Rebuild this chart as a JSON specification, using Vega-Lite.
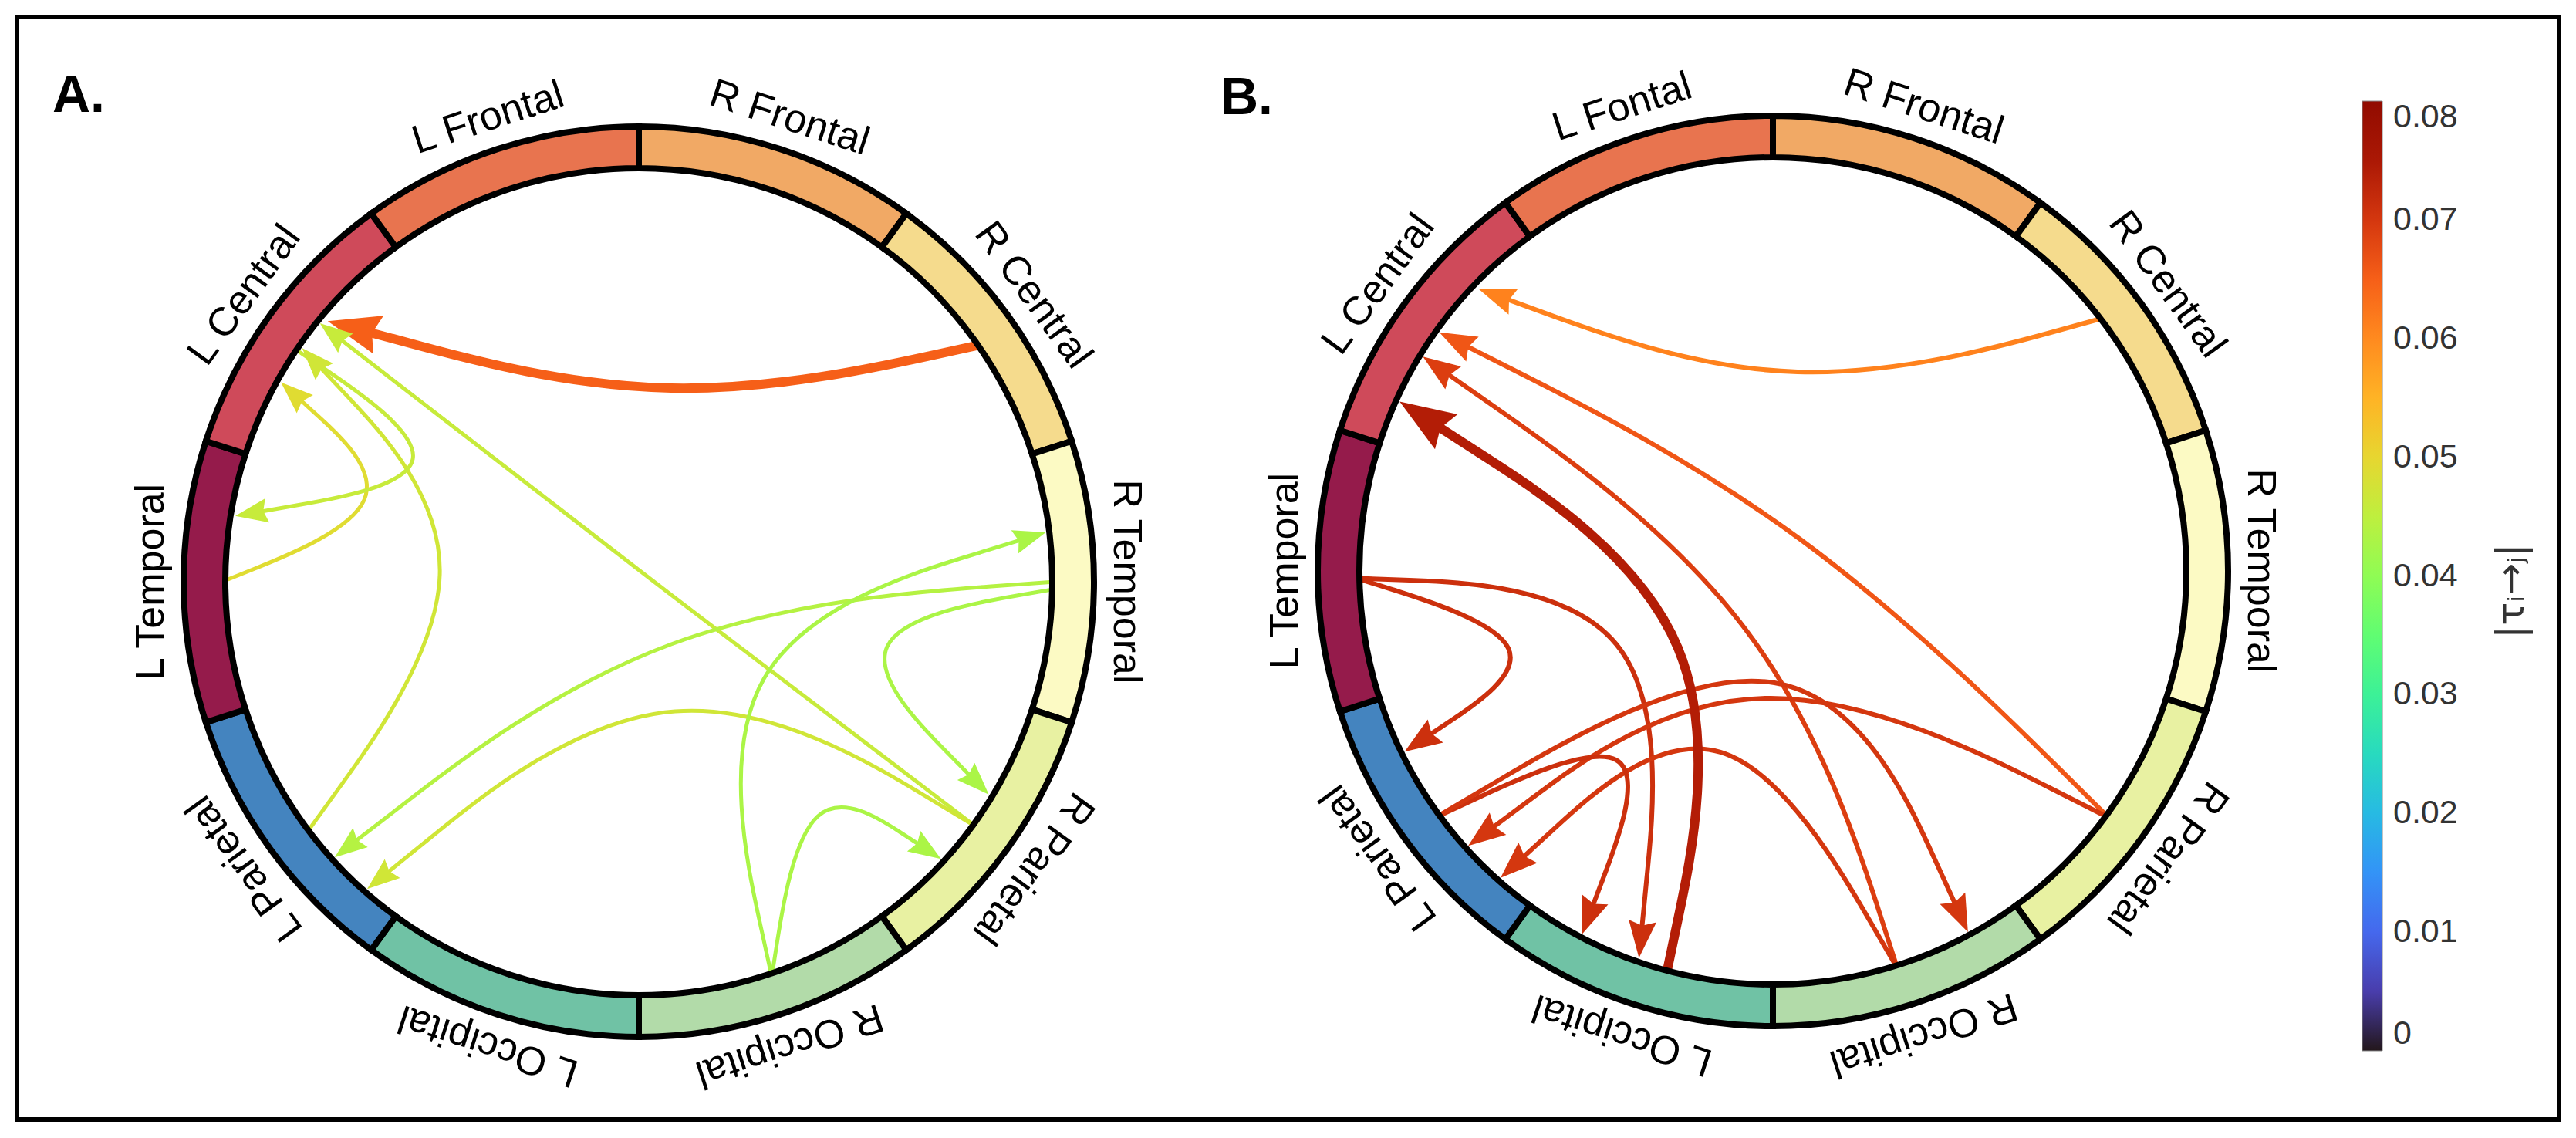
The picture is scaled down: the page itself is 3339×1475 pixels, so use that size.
{
  "$schema": "https://vega.github.io/schema/vega-lite/v6.json",
  "width": 3339,
  "height": 1475,
  "autosize": {"type": "fit", "contains": "padding"},
  "padding": {"left": 22, "top": 22, "right": 22, "bottom": 24},
  "background": "white",
  "config": {
    "view": {"stroke": "black", "strokeWidth": 6},
    "font": "Liberation Sans"
  },
  "datasets": {
    "chordsA": [
      {"c": "A1", "s": 0, "x": 1271.9, "y": 446.6, "tau": 0.065},
      {"c": "A1", "s": 1, "x": 866.9, "y": 535.1, "tau": 0.065},
      {"c": "A1", "s": 2, "x": 480.6, "y": 431.2, "tau": 0.065, "dir": 285.1},
      {"c": "A2", "s": 0, "x": 1264.9, "y": 1071.4, "tau": 0.046},
      {"c": "A2", "s": 1, "x": 833.1, "y": 743.9, "tau": 0.046},
      {"c": "A2", "s": 2, "x": 442.9, "y": 441.0, "tau": 0.046, "dir": 307.8},
      {"c": "A3", "s": 0, "x": 397.3, "y": 1079.7, "tau": 0.047},
      {"c": "A3", "s": 1, "x": 651.7, "y": 728.3, "tau": 0.047},
      {"c": "A3", "s": 2, "x": 416.1, "y": 477.2, "tau": 0.047, "dir": 316.8},
      {"c": "A4", "s": 0, "x": 288.0, "y": 754.0, "tau": 0.049},
      {"c": "A4", "s": 1, "x": 538.4, "y": 653.6, "tau": 0.049},
      {"c": "A4", "s": 2, "x": 390.6, "y": 519.5, "tau": 0.049, "dir": 312.2},
      {"c": "A5", "s": 0, "x": 380.8, "y": 451.3, "tau": 0.046},
      {"c": "A5", "s": 1, "x": 622.3, "y": 614.0, "tau": 0.046},
      {"c": "A5", "s": 2, "x": 340.2, "y": 662.7, "tau": 0.046, "dir": 260.2},
      {"c": "A6", "s": 0, "x": 1368.0, "y": 754.0, "tau": 0.044},
      {"c": "A6", "s": 1, "x": 847.5, "y": 791.7, "tau": 0.044},
      {"c": "A6", "s": 2, "x": 462.1, "y": 1089.3, "tau": 0.044, "dir": 232.3},
      {"c": "A7", "s": 0, "x": 1264.9, "y": 1071.4, "tau": 0.047},
      {"c": "A7", "s": 1, "x": 870.4, "y": 832.7, "tau": 0.047},
      {"c": "A7", "s": 2, "x": 503.7, "y": 1129.7, "tau": 0.047, "dir": 231.0},
      {"c": "A8", "s": 0, "x": 1000.3, "y": 1265.8, "tau": 0.043},
      {"c": "A8", "s": 1, "x": 904.6, "y": 828.5, "tau": 0.043},
      {"c": "A8", "s": 2, "x": 1321.4, "y": 700.4, "tau": 0.043, "dir": 72.9},
      {"c": "A9", "s": 0, "x": 1367.9, "y": 763.4, "tau": 0.043},
      {"c": "A9", "s": 1, "x": 1068.9, "y": 815.1, "tau": 0.043},
      {"c": "A9", "s": 2, "x": 1256.5, "y": 1004.4, "tau": 0.043, "dir": 135.3},
      {"c": "A10", "s": 0, "x": 1000.3, "y": 1265.8, "tau": 0.043},
      {"c": "A10", "s": 1, "x": 1042.5, "y": 997.1, "tau": 0.043},
      {"c": "A10", "s": 2, "x": 1189.8, "y": 1093.7, "tau": 0.043, "dir": 123.3}
    ],
    "chordsB": [
      {"c": "B1", "s": 0, "x": 2727.0, "y": 412.0, "tau": 0.061},
      {"c": "B1", "s": 1, "x": 2324.5, "y": 522.9, "tau": 0.061},
      {"c": "B1", "s": 2, "x": 1954.9, "y": 388.4, "tau": 0.061, "dir": 290.0},
      {"c": "B2", "s": 0, "x": 2733.2, "y": 1059.7, "tau": 0.066},
      {"c": "B2", "s": 1, "x": 2341.4, "y": 671.3, "tau": 0.066},
      {"c": "B2", "s": 2, "x": 1902.1, "y": 449.2, "tau": 0.066, "dir": 296.8},
      {"c": "B3", "s": 0, "x": 2459.5, "y": 1255.3, "tau": 0.069},
      {"c": "B3", "s": 1, "x": 2308.7, "y": 787.3, "tau": 0.069},
      {"c": "B3", "s": 2, "x": 1877.8, "y": 485.6, "tau": 0.069, "dir": 305.0},
      {"c": "B5", "s": 0, "x": 1758.1, "y": 749.4, "tau": 0.071},
      {"c": "B5", "s": 1, "x": 2029.3, "y": 834.8, "tau": 0.071},
      {"c": "B5", "s": 2, "x": 1854.6, "y": 951.5, "tau": 0.071, "dir": 236.3},
      {"c": "B6", "s": 0, "x": 1758.1, "y": 749.4, "tau": 0.071},
      {"c": "B6", "s": 1, "x": 2170.9, "y": 764.9, "tau": 0.071},
      {"c": "B6", "s": 2, "x": 2128.4, "y": 1201.0, "tau": 0.071, "dir": 185.6},
      {"c": "B7", "s": 0, "x": 2733.2, "y": 1059.7, "tau": 0.07},
      {"c": "B7", "s": 1, "x": 2267.8, "y": 824.6, "tau": 0.07},
      {"c": "B7", "s": 2, "x": 1935.8, "y": 1071.9, "tau": 0.07, "dir": 233.3},
      {"c": "B8", "s": 0, "x": 2459.5, "y": 1255.3, "tau": 0.07},
      {"c": "B8", "s": 1, "x": 2236.4, "y": 871.1, "tau": 0.07},
      {"c": "B8", "s": 2, "x": 1975.1, "y": 1110.2, "tau": 0.07, "dir": 227.5},
      {"c": "B9", "s": 0, "x": 1862.2, "y": 1058.9, "tau": 0.071},
      {"c": "B9", "s": 1, "x": 2160.7, "y": 919.7, "tau": 0.071},
      {"c": "B9", "s": 2, "x": 2065.1, "y": 1172.5, "tau": 0.071, "dir": 200.7},
      {"c": "B10", "s": 0, "x": 1862.2, "y": 1058.9, "tau": 0.07},
      {"c": "B10", "s": 1, "x": 2351.0, "y": 770.1, "tau": 0.07},
      {"c": "B10", "s": 2, "x": 2533.9, "y": 1170.8, "tau": 0.07, "dir": 155.5},
      {"c": "B4", "s": 0, "x": 2160.1, "y": 1262.1, "tau": 0.074},
      {"c": "B4", "s": 1, "x": 2256.1, "y": 806.0, "tau": 0.074},
      {"c": "B4", "s": 2, "x": 1865.6, "y": 553.8, "tau": 0.074, "dir": 302.9}
    ],
    "regions": [
      {"panel": "A", "region": "R Frontal", "x": 828, "y": 754, "a0": 0, "a1": 36},
      {"panel": "A", "region": "R Central", "x": 828, "y": 754, "a0": 36, "a1": 72},
      {"panel": "A", "region": "R Temporal", "x": 828, "y": 754, "a0": 72, "a1": 108},
      {"panel": "A", "region": "R Parietal", "x": 828, "y": 754, "a0": 108, "a1": 144},
      {"panel": "A", "region": "R Occipital", "x": 828, "y": 754, "a0": 144, "a1": 180},
      {"panel": "A", "region": "L Occipital", "x": 828, "y": 754, "a0": 180, "a1": 216},
      {"panel": "A", "region": "L Parietal", "x": 828, "y": 754, "a0": 216, "a1": 252},
      {"panel": "A", "region": "L Temporal", "x": 828, "y": 754, "a0": 252, "a1": 288},
      {"panel": "A", "region": "L Central", "x": 828, "y": 754, "a0": 288, "a1": 324},
      {"panel": "A", "region": "L Frontal", "x": 828, "y": 754, "a0": 324, "a1": 360},
      {"panel": "B", "region": "R Frontal", "x": 2298, "y": 740, "a0": 0, "a1": 36},
      {"panel": "B", "region": "R Central", "x": 2298, "y": 740, "a0": 36, "a1": 72},
      {"panel": "B", "region": "R Temporal", "x": 2298, "y": 740, "a0": 72, "a1": 108},
      {"panel": "B", "region": "R Parietal", "x": 2298, "y": 740, "a0": 108, "a1": 144},
      {"panel": "B", "region": "R Occipital", "x": 2298, "y": 740, "a0": 144, "a1": 180},
      {"panel": "B", "region": "L Occipital", "x": 2298, "y": 740, "a0": 180, "a1": 216},
      {"panel": "B", "region": "L Parietal", "x": 2298, "y": 740, "a0": 216, "a1": 252},
      {"panel": "B", "region": "L Temporal", "x": 2298, "y": 740, "a0": 252, "a1": 288},
      {"panel": "B", "region": "L Central", "x": 2298, "y": 740, "a0": 288, "a1": 324},
      {"panel": "B", "region": "L Frontal", "x": 2298, "y": 740, "a0": 324, "a1": 360}
    ],
    "labels": [
      {"label": "R Frontal", "x": 1023.3, "y": 152.9, "rot": 18},
      {"label": "R Central", "x": 1339.3, "y": 382.5, "rot": 54},
      {"label": "R Temporal", "x": 1460, "y": 754, "rot": 90},
      {"label": "R Parietal", "x": 1339.3, "y": 1125.5, "rot": 126},
      {"label": "R Occipital", "x": 1023.3, "y": 1355.1, "rot": 162},
      {"label": "L Occipital", "x": 632.7, "y": 1355.1, "rot": 198},
      {"label": "L Parietal", "x": 316.7, "y": 1125.5, "rot": 234},
      {"label": "L Temporal", "x": 196, "y": 754, "rot": 270},
      {"label": "L Central", "x": 316.7, "y": 382.5, "rot": 306},
      {"label": "L Frontal", "x": 632.7, "y": 152.9, "rot": 342},
      {"label": "R Frontal", "x": 2493.3, "y": 138.9, "rot": 18},
      {"label": "R Central", "x": 2809.3, "y": 368.5, "rot": 54},
      {"label": "R Temporal", "x": 2930, "y": 740, "rot": 90},
      {"label": "R Parietal", "x": 2809.3, "y": 1111.5, "rot": 126},
      {"label": "R Occipital", "x": 2493.3, "y": 1341.1, "rot": 162},
      {"label": "L Occipital", "x": 2102.7, "y": 1341.1, "rot": 198},
      {"label": "L Parietal", "x": 1786.7, "y": 1111.5, "rot": 234},
      {"label": "L Temporal", "x": 1666, "y": 740, "rot": 270},
      {"label": "L Central", "x": 1786.7, "y": 368.5, "rot": 306},
      {"label": "L Fontal", "x": 2102.7, "y": 138.9, "rot": 342}
    ],
    "letters": [
      {"t": "A.", "x": 68, "y": 145},
      {"t": "B.", "x": 1582, "y": 148}
    ],
    "cbtitle": [
      {"t": "|τᵢ→ⱼ|", "x": 3256, "y": 766}
    ]
  },
  "encoding": {
    "x": {"field": "x", "type": "quantitative", "scale": {"domain": [22, 3317], "nice": false, "zero": false}, "axis": null},
    "y": {"field": "y", "type": "quantitative", "scale": {"domain": [22, 1451], "nice": false, "zero": false, "reverse": true}, "axis": null}
  },
  "layer": [
    {
      "data": {"name": "chordsA"},
      "mark": {"type": "line", "interpolate": "basis", "strokeCap": "butt"},
      "encoding": {
        "detail": {"field": "c", "type": "nominal"},
        "order": {"field": "s", "type": "quantitative"},
        "color": {
          "field": "tau", "type": "quantitative",
          "scale": {"scheme": "turbo", "domain": [0, 0.08]},
          "legend": {
            "type": "gradient",
            "orient": "none", "legendX": 3040, "legendY": 109,
            "title": null, "direction": "vertical",
            "gradientLength": 1231, "gradientThickness": 26,
            "values": [0, 0.01, 0.02, 0.03, 0.04, 0.05, 0.06, 0.07, 0.08],
            "format": ".2~f", "labelFontSize": 43, "labelFont": "Liberation Sans",
            "labelColor": "#333333", "labelOffset": 14, "labelBaseline": "middle",
            "labelOverlap": false, "gradientStrokeColor": "#888888", "gradientStrokeWidth": 1,
            "padding": 0
          }
        },
        "strokeWidth": {"field": "tau", "type": "quantitative", "scale": {"type": "threshold", "domain": [0.06], "range": [5, 12]}, "legend": null}
      }
    },
    {
      "data": {"name": "chordsA"},
      "transform": [{"filter": "datum.s == 2"}],
      "mark": {"type": "point", "shape": "M0,-1.7L0.75,0.3L0,0.05L-0.75,0.3Z", "filled": true, "opacity": 1, "strokeWidth": 0},
      "encoding": {
        "color": {"field": "tau", "type": "quantitative", "scale": {"scheme": "turbo", "domain": [0, 0.08]}, "legend": null},
        "size": {"field": "tau", "type": "quantitative", "scale": {"type": "threshold", "domain": [0.06], "range": [1764, 4624]}, "legend": null},
        "angle": {"field": "dir", "type": "quantitative", "scale": null}
      }
    },
    {
      "data": {"name": "chordsB"},
      "mark": {"type": "line", "interpolate": "basis", "strokeCap": "butt"},
      "encoding": {
        "detail": {"field": "c", "type": "nominal"},
        "order": {"field": "s", "type": "quantitative"},
        "color": {"field": "tau", "type": "quantitative", "scale": {"scheme": "turbo", "domain": [0, 0.08]}, "legend": null},
        "strokeWidth": {"field": "tau", "type": "quantitative", "scale": {"type": "threshold", "domain": [0.072], "range": [6, 12]}, "legend": null}
      }
    },
    {
      "data": {"name": "chordsB"},
      "transform": [{"filter": "datum.s == 2"}],
      "mark": {"type": "point", "shape": "M0,-1.7L0.75,0.3L0,0.05L-0.75,0.3Z", "filled": true, "opacity": 1, "strokeWidth": 0},
      "encoding": {
        "color": {"field": "tau", "type": "quantitative", "scale": {"scheme": "turbo", "domain": [0, 0.08]}, "legend": null},
        "size": {"field": "tau", "type": "quantitative", "scale": {"type": "threshold", "domain": [0.072], "range": [2304, 5184]}, "legend": null},
        "angle": {"field": "dir", "type": "quantitative", "scale": null}
      }
    },
    {
      "data": {"name": "regions"},
      "mark": {"type": "arc", "radius": 590, "radius2": 536, "stroke": "black", "strokeWidth": 8},
      "encoding": {
        "theta": {"field": "a0", "type": "quantitative", "scale": {"domain": [0, 360], "range": [0, 6.283185307179586]}, "stack": null},
        "theta2": {"field": "a1"},
        "fill": {
          "field": "region", "type": "nominal", "legend": null,
          "scale": {
            "domain": ["L Temporal", "L Central", "L Frontal", "R Frontal", "R Central", "R Temporal", "R Parietal", "R Occipital", "L Occipital", "L Parietal"],
            "range": ["#951b4b", "#cf4a5a", "#e8744f", "#f1a965", "#f5db8d", "#fcfac4", "#e8f1a2", "#b2dba9", "#70c2a5", "#4484bf"]
          }
        }
      }
    },
    {
      "data": {"name": "labels"},
      "mark": {"type": "text", "align": "center", "baseline": "middle", "fontSize": 52, "font": "Liberation Sans", "color": "black"},
      "encoding": {
        "text": {"field": "label"},
        "angle": {"field": "rot", "type": "quantitative", "scale": null}
      }
    },
    {
      "data": {"name": "letters"},
      "mark": {"type": "text", "align": "left", "baseline": "alphabetic", "fontSize": 68, "fontWeight": "bold", "font": "Liberation Sans", "color": "black"},
      "encoding": {"text": {"field": "t"}}
    },
    {
      "data": {"name": "cbtitle"},
      "mark": {"type": "text", "align": "center", "baseline": "middle", "fontSize": 50, "font": "DejaVu Sans", "color": "#333333", "angle": 270},
      "encoding": {"text": {"field": "t"}}
    }
  ],
  "resolve": {
    "scale": {"strokeWidth": "independent", "size": "independent"},
    "legend": {"color": "independent"}
  }
}
